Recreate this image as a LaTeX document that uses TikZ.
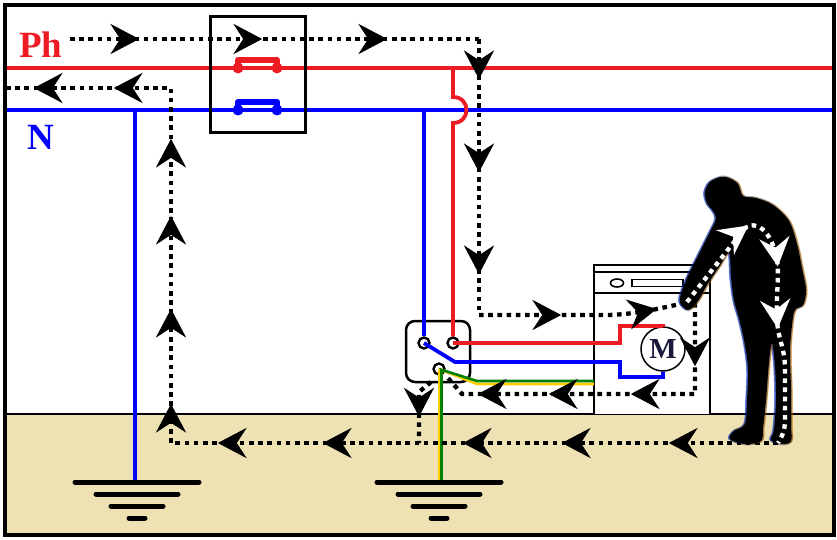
\documentclass[tikz,border=0pt]{standalone}
\usepackage{fontspec}
\setmainfont{Liberation Serif}
\usetikzlibrary{arrows.meta,decorations.markings}
\definecolor{phred}{RGB}{237,28,36}
\definecolor{nblue}{RGB}{0,0,255}
\definecolor{pegreen}{RGB}{0,128,0}
\definecolor{peyellow}{RGB}{255,205,0}
\definecolor{soil}{RGB}{238,226,180}
\definecolor{motorink}{RGB}{25,25,60}
\tikzset{
  wire/.style={line width=3.8pt},
  pewire/.style={line width=2.6pt},
  flow/.style={line width=4.3pt, dash pattern=on 4.6pt off 4.6pt},
  tipat/.style={postaction={decorate, solid, line width=0.4pt,
      decoration={markings, mark=at position #1 with
        {\arrow{Stealth[length=19pt,width=20pt,inset=6.5pt]}}}}},
  gbar/.style={line width=5pt, line cap=round},
  hole/.style={circle, draw, line width=2.4pt, fill=white, minimum size=11pt, inner sep=0pt},
  contact/.style={line width=6.5pt, line cap=round, line join=round},
  label/.style={anchor=base west, inner sep=0pt, font=\bfseries\fontsize{37}{37}\selectfont},
}
% outline of the person touching the machine
\newcommand\personpath{plot[smooth cycle, tension=0.55] coordinates {
  (721,177) (710,182) (705,192) (707,203) (713,211) (716,219)
  (709,234) (698,256) (688,276) (682,291) (680,302) (688,310)
  (698,301) (707,285) (719,267) (729,253)
  (731,277) (734,300) (740,322) (745,345) (748,370) (747,400)
  (745,424) (734,431) (730,439) (745,444) (761,441) (763,428)
  (766,400) (769,362) (772,343)
  (775,366) (776,400) (774,430) (771,440) (782,444) (791,441)
  (791,425) (791,390) (790,352) (792,325) (795,310) (803,305)
  (806,290) (802,268) (797,244) (789,221) (773,205) (756,198)
  (743,196) (738,184) (729,178)}}
\begin{document}
\begin{tikzpicture}[x=1pt,y=-1pt]
\useasboundingbox (0,0) rectangle (837,540);
\fill[white] (0,0) rectangle (837,540);

% soil
\fill[soil] (5,414) rectangle (834,535);
\draw[line width=2pt] (5,414) -- (834,414);

% supply conductors
\coordinate (phL) at (5,68);  \coordinate (phR) at (834,68);
\coordinate (nL)  at (5,110); \coordinate (nR)  at (834,110);
\draw[wire, phred] (phL) -- (phR);
\draw[wire, nblue] (nL) -- (nR);

% breaker contacts
\draw[contact, phred] (238,66) -- (238,60) -- (277,60) -- (277,66);
\fill[phred] (238,68) circle[radius=5.5pt] (277,68) circle[radius=5.5pt];
\draw[contact, nblue] (238,108) -- (238,102) -- (277,102) -- (277,108);
\fill[nblue] (238,110) circle[radius=5.5pt] (277,110) circle[radius=5.5pt];
\node[draw, line width=3pt, minimum width=95pt, minimum height=116pt, inner sep=0pt] (breaker) at (257.5,75) {};

% neutral earthing at the supply
\coordinate (nTapG) at (135,110);
\coordinate (gL) at (137,482);
\draw[wire, nblue] (nTapG) -- (nTapG |- gL);

% washing machine
\draw[line width=2.5pt, fill=white] (594,414) -- (594,265) -- (710,265) -- (710,414);
\draw[line width=2pt] (594,272) -- (710,272);
\draw[line width=2.5pt] (594,293) -- (710,293);
\draw[line width=1.6pt] (617,283) ellipse[x radius=6.5pt, y radius=4pt];
\draw[line width=1.6pt] (632,279.5) rectangle (683,286.5);

% socket
\node[draw, line width=2.5pt, fill=white, rounded corners=9pt, minimum width=64pt, minimum height=61pt, inner sep=0pt] (socket) at (438,351.5) {};
\node[hole] (hN) at (424,343) {};
\node[hole] (hP) at (453,343) {};
\node[hole] (hE) at (439,369) {};

% feeds to the socket
\coordinate (nTapS) at (424,110);
\coordinate (phTap) at (453,68);
\coordinate (hopA) at (453,97);
\coordinate (hopB) at (453,123);
\draw[wire, nblue] (nTapS) -- (hN.north);
\draw[wire, phred] (phTap) -- (hopA) .. controls (471,97) and (471,123) .. (hopB) -- (hP.north);

% motor
\node[circle, draw, line width=1.5pt, fill=white, minimum size=44pt, inner sep=0pt,
      font=\bfseries\fontsize{29}{29}\selectfont, text=motorink] (motor) at (663,349) {M};

% machine wiring
\draw[wire, phred] (hP.center) -- (620,343) -- (620,326) -- (663,326) -- (motor.north);
\draw[wire, nblue] (hN.center) -- (455,362) -- (620,362) -- (620,377) -- (663,377) -- (motor.south);
\draw[pewire, peyellow] (hE.center) -- (477,384) -- (594,384);
\draw[pewire, pegreen] (hE.center) -- (477,381) -- (594,381);

% protective earth conductor
\coordinate (gR) at (439,482);
\draw[pewire, peyellow] (hE.center) -- (gR);
\draw[pewire, pegreen] (441.5,371) -- (441.5,482);

% earth electrodes
\foreach \g in {gL,gR} {
  \draw[gbar] ([xshift=-62pt]\g) -- ([xshift=62pt]\g);
  \draw[gbar] ([xshift=-41pt,yshift=-12pt]\g) -- ([xshift=41pt,yshift=-12pt]\g);
  \draw[gbar] ([xshift=-26pt,yshift=-24pt]\g) -- ([xshift=26pt,yshift=-24pt]\g);
  \draw[gbar] ([xshift=-8pt,yshift=-36pt]\g) -- ([xshift=8pt,yshift=-36pt]\g);
}

% fault current: phase to the machine
\coordinate (f1) at (70,39);
\coordinate (f2) at (479,39);
\coordinate (f3) at (479,315);
\coordinate (f4) at (605,315);
\coordinate (hand) at (690,302);
\draw[flow, tipat=65pt, tipat=188pt, tipat=313pt] (f1) -- (f2);
\draw[flow, tipat=36pt, tipat=129pt, tipat=231pt] (f2) -- (f3);
\draw[flow, tipat=78pt, tipat=174pt] (f3) -- (f4) .. controls (635,315) and (665,307) .. (hand);

% through the casing to the earth terminal
\coordinate (w1) at (695,303);
\coordinate (w2) at (695,394);
\coordinate (w3) at (462,394);
\coordinate (w4) at (448,378);
\draw[flow, tipat=59pt, tipat=151pt, tipat=233pt, tipat=304pt] (w1) -- (w2) -- (w3) -- (w4);

\coordinate (s1) at (431,382);
\coordinate (s2) at (419,392);
\coordinate (s3) at (419,443);
\draw[flow, tipat=36pt] (s1) -- (s2) -- (s3);

% return through the soil to the neutral
\coordinate (r1) at (778,443);
\coordinate (r2) at (171,443);
\coordinate (r3) at (171,88);
\coordinate (r4) at (7,88);
\draw[flow, tipat=105pt, tipat=212pt, tipat=311pt, tipat=451pt, tipat=556pt,
      tipat=642pt, tipat=737pt, tipat=830pt, tipat=907pt, tipat=1015pt, tipat=1095pt]
  (r1) -- (r2) -- (r3) -- (r4);

% the person
\fill[nblue!80!cyan, opacity=0.55, xshift=-1.8pt] \personpath;
\fill[orange!90!yellow, opacity=0.45, xshift=1.8pt] \personpath;
\draw[black, line width=2.5pt, opacity=0.35] \personpath;
\fill[black] \personpath;

% current through the body
\coordinate (b0) at (687,302);
\coordinate (b1) at (745,228);
\coordinate (b2) at (776,255);
\coordinate (b3) at (778,330);
\coordinate (b4) at (785,370);
\coordinate (b5) at (785,420);
\draw[flow, white, tipat=94pt, tipat=150pt, tipat=212pt]
  (b0) -- (b1) .. controls (756,220) and (770,230) .. (b2)
  .. controls (781,275) and (774,300) .. (b3)
  .. controls (781,345) and (785,352) .. (b4) -- (b5)
  .. controls (785,432) and (781,438) .. (r1);

% labels
\node[label, text=phred] (phlabel) at (19,58) {Ph};
\node[label, text=nblue] (nlabel) at (27,150) {N};

% frame
\draw[line width=3.5pt] (5,5) rectangle (834,535);
\end{tikzpicture}
\end{document}
